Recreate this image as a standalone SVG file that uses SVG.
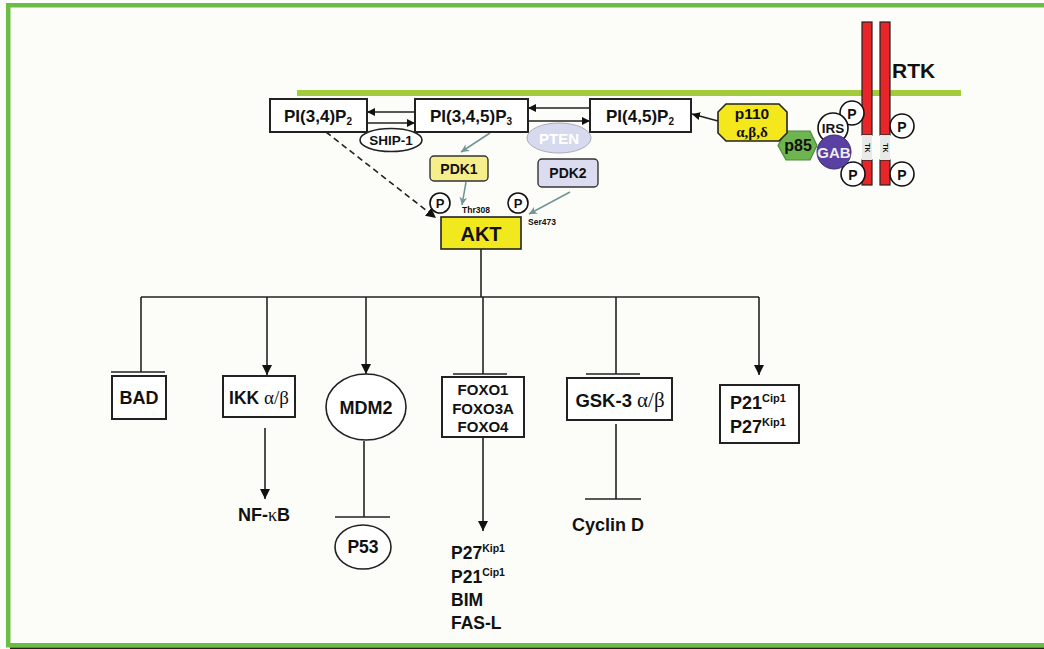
<svg xmlns="http://www.w3.org/2000/svg" width="1044" height="649" viewBox="0 0 1044 649">
<defs>
<marker id="ah" viewBox="0 0 10 10" refX="10" refY="5" markerWidth="10" markerHeight="10" orient="auto" markerUnits="userSpaceOnUse"><path d="M0,0 L10,5 L0,10 z" fill="#111"/></marker>
<marker id="ahs" viewBox="0 0 10 10" refX="10" refY="5" markerWidth="8" markerHeight="8" orient="auto" markerUnits="userSpaceOnUse"><path d="M0,0 L10,5 L0,10 z" fill="#111"/></marker>
<marker id="ahg" viewBox="0 0 10 10" refX="10" refY="5" markerWidth="8" markerHeight="8" orient="auto" markerUnits="userSpaceOnUse"><path d="M0,0 L10,5 L0,10 L3,5 z" fill="#6f9595"/></marker>
<style>
.t{font-family:"Liberation Sans",Arial,sans-serif;font-weight:bold;fill:#111;}
.g{font-family:"Liberation Serif","Times New Roman",serif;font-weight:normal;}
.box{fill:#fff;stroke:#222;stroke-width:2;}
.ln{stroke:#222;stroke-width:1.6;fill:none;}
.ga{stroke:#6f9595;stroke-width:1.5;fill:none;marker-end:url(#ahg);}
.pc{fill:#fff;stroke:#111;stroke-width:1.6;}
</style>
</defs>
<rect x="0" y="0" width="1044" height="649" fill="#fcfdf8"/>
<g id="frame">
<rect x="6" y="3" width="1038" height="4.5" fill="#6cbd45"/>
<rect x="6" y="3" width="4.5" height="644" fill="#6cbd45"/>
<rect x="6" y="643" width="1038" height="4.5" fill="#6cbd45"/>
<rect x="10" y="647.5" width="1034" height="1.5" fill="#222"/>
</g>
<g id="membrane"><rect x="297" y="90" width="664" height="6" fill="#a2cc3c"/></g>

<g id="connectors">
<line class="ln" x1="415" y1="112" x2="367" y2="112" marker-end="url(#ahs)" stroke-width="2"/>
<line class="ln" x1="367" y1="123" x2="415" y2="123" marker-end="url(#ahs)" stroke-width="2"/>
<line class="ln" x1="590" y1="108" x2="528" y2="108" marker-end="url(#ahs)" stroke-width="2"/>
<line class="ln" x1="528" y1="121" x2="590" y2="121" marker-end="url(#ahs)" stroke-width="2"/>
<line class="ln" x1="718" y1="121" x2="692" y2="114" marker-end="url(#ahs)"/>
<line class="ln" x1="326" y1="132" x2="436" y2="218" stroke-dasharray="6,4" marker-end="url(#ah)" stroke-width="1.8"/>
<line class="ga" x1="490" y1="133" x2="461" y2="152"/>
<line class="ga" x1="466" y1="182" x2="462" y2="205"/>
<line class="ga" x1="570" y1="192" x2="529" y2="214"/>
<line class="ln" x1="481" y1="249" x2="481" y2="297"/>
<line class="ln" x1="141" y1="297" x2="759" y2="297"/>
<line class="ln" x1="141" y1="297" x2="141" y2="372"/>
<line class="ln" x1="111" y1="372" x2="165" y2="372" stroke-width="2"/>
<line class="ln" x1="267" y1="297" x2="267" y2="375" marker-end="url(#ah)"/>
<line class="ln" x1="366" y1="297" x2="366" y2="374" marker-end="url(#ah)"/>
<line class="ln" x1="483" y1="297" x2="483" y2="374"/>
<line class="ln" x1="453" y1="374" x2="507" y2="374" stroke="#666" stroke-width="2"/>
<line class="ln" x1="616" y1="297" x2="616" y2="374"/>
<line class="ln" x1="586" y1="374" x2="640" y2="374" stroke="#666" stroke-width="2"/>
<line class="ln" x1="759" y1="297" x2="759" y2="375" marker-end="url(#ah)"/>
<line class="ln" x1="265" y1="428" x2="265" y2="499" marker-end="url(#ah)"/>
<line class="ln" x1="364" y1="441" x2="364" y2="517"/>
<line class="ln" x1="335" y1="517" x2="390" y2="517"/>
<line class="ln" x1="483" y1="438" x2="483" y2="531" marker-end="url(#ah)"/>
<line class="ln" x1="616" y1="424" x2="616" y2="499"/>
<line class="ln" x1="585" y1="499" x2="641" y2="499" stroke-width="2"/>
</g>

<g id="rtk">
<rect x="862" y="22" width="10" height="113" fill="#e8262a" stroke="#222" stroke-width="1.2"/>
<rect x="862" y="160" width="10" height="25" fill="#e8262a" stroke="#222" stroke-width="1.2"/>
<rect x="880" y="22" width="10" height="113" fill="#e8262a" stroke="#222" stroke-width="1.2"/>
<rect x="880" y="160" width="10" height="25" fill="#e8262a" stroke="#222" stroke-width="1.2"/>
<rect x="862" y="135" width="10" height="25" fill="#e6ebea"/>
<rect x="880" y="135" width="10" height="25" fill="#e6ebea"/>
<text class="t" font-size="7" text-anchor="middle" transform="translate(867,148) rotate(90)" dy="2.5">TK</text>
<text class="t" font-size="7" text-anchor="middle" transform="translate(885,148) rotate(90)" dy="2.5">TK</text>
<text class="t" x="892" y="78" font-size="21">RTK</text>
</g>
<g id="p-rtk">
<circle class="pc" cx="852" cy="113" r="12"/><text class="t" x="852" y="118.5" font-size="14" text-anchor="middle">P</text>
<circle class="pc" cx="902" cy="126" r="12"/><text class="t" x="902" y="131.5" font-size="14" text-anchor="middle">P</text>
<circle class="pc" cx="853" cy="174" r="12"/><text class="t" x="853" y="179.5" font-size="14" text-anchor="middle">P</text>
<circle class="pc" cx="902" cy="174" r="12"/><text class="t" x="902" y="179.5" font-size="14" text-anchor="middle">P</text>
</g>
<g id="irs">
<circle class="pc" cx="833" cy="128" r="15"/><text class="t" x="833" y="133" font-size="13.5" text-anchor="middle">IRS</text>
</g>
<g id="gab">
<circle cx="834" cy="152" r="17" fill="#5b40a3" stroke="#3a2a70" stroke-width="1"/>
<text class="t" x="834" y="157.5" font-size="15" text-anchor="middle" style="fill:#eee">GAB</text>
</g>
<g id="p85">
<polygon points="786,131 810,131 817,145.5 810,160 786,160 778,145.5" fill="#6fb54f" stroke="#4c8a38" stroke-width="1.2"/>
<text class="t" x="798" y="151" font-size="16" text-anchor="middle">p85</text>
</g>
<g id="p110">
<polygon points="726,104 779,104 787,112 787,133 779,141 726,141 718,133 718,112" fill="#f4e81c" stroke="#222" stroke-width="1.6"/>
<text class="t" x="752" y="119" font-size="15.5" text-anchor="middle">p110</text>
<text class="t" x="752" y="137" font-size="15" text-anchor="middle" style="font-family:'Liberation Serif',serif">α,β,δ</text>
</g>

<g id="pi34p2">
<rect class="box" x="270" y="99" width="97" height="33"/>
<text class="t" x="318" y="121.5" font-size="17" text-anchor="middle">PI(3,4)P<tspan font-size="10" dy="3">2</tspan></text>
</g>
<g id="pi345p3">
<rect class="box" x="415" y="99" width="113" height="33"/>
<text class="t" x="471" y="121.5" font-size="17" text-anchor="middle">PI(3,4,5)P<tspan font-size="10" dy="3">3</tspan></text>
</g>
<g id="pi45p2">
<rect class="box" x="590" y="99" width="101" height="33"/>
<text class="t" x="640" y="121.5" font-size="17" text-anchor="middle">PI(4,5)P<tspan font-size="10" dy="3">2</tspan></text>
</g>
<g id="ship1">
<ellipse cx="391" cy="140" rx="31" ry="11.5" fill="#fff" stroke="#222" stroke-width="1.6"/>
<text class="t" x="391" y="145" font-size="13.5" text-anchor="middle">SHIP-1</text>
</g>
<g id="pten">
<ellipse cx="559" cy="138" rx="32" ry="15" fill="#d7d9ee" stroke="#aab" stroke-width="1"/>
<text class="t" x="559" y="143.5" font-size="15" text-anchor="middle" style="fill:#fff">PTEN</text>
</g>
<g id="pdk1">
<rect x="430" y="156" width="58" height="25" rx="4" fill="#f6ee8a" stroke="#333" stroke-width="1.4"/>
<text class="t" x="459" y="173.5" font-size="14" text-anchor="middle">PDK1</text>
</g>
<g id="pdk2">
<rect x="538" y="159" width="60" height="28" rx="4" fill="#dcdcf0" stroke="#333" stroke-width="1.4"/>
<text class="t" x="568" y="178" font-size="14" text-anchor="middle">PDK2</text>
</g>
<g id="akt">
<rect x="441" y="217" width="80" height="32" fill="#f2e81e" stroke="#222" stroke-width="1.6"/>
<text class="t" x="481" y="241" font-size="20" text-anchor="middle">AKT</text>
<circle class="pc" cx="440" cy="203" r="10"/><text class="t" x="440" y="208" font-size="13" text-anchor="middle">P</text>
<circle class="pc" cx="518" cy="203" r="10"/><text class="t" x="518" y="208" font-size="13" text-anchor="middle">P</text>
<text class="t" x="462" y="213" font-size="8.5">Thr308</text>
<text class="t" x="528" y="225" font-size="8.5">Ser473</text>
</g>

<g id="bad">
<rect class="box" x="112" y="376" width="54" height="43"/>
<text class="t" x="139" y="404" font-size="18" text-anchor="middle">BAD</text>
</g>
<g id="ikk">
<rect class="box" x="223" y="376" width="72" height="41"/>
<text class="t" x="259" y="404" font-size="17.5" text-anchor="middle">IKK <tspan style="font-family:'Liberation Serif',serif;font-weight:normal" font-size="19">α/β</tspan></text>
</g>
<g id="mdm2">
<ellipse cx="366" cy="407" rx="40" ry="33" fill="#fff" stroke="#222" stroke-width="1.6"/>
<text class="t" x="366" y="413.5" font-size="18" text-anchor="middle">MDM2</text>
</g>
<g id="foxo">
<rect class="box" x="442" y="377" width="82" height="60"/>
<text class="t" x="483" y="395" font-size="15" text-anchor="middle">FOXO1</text>
<text class="t" x="483" y="413.5" font-size="15" text-anchor="middle">FOXO3A</text>
<text class="t" x="483" y="432" font-size="15" text-anchor="middle">FOXO4</text>
</g>
<g id="gsk3">
<rect class="box" x="567" y="378" width="105" height="42"/>
<text class="t" x="620" y="407" font-size="18.5" text-anchor="middle">GSK-3 <tspan style="font-family:'Liberation Serif',serif;font-weight:normal" font-size="21">α/β</tspan></text>
</g>
<g id="p21p27">
<rect class="box" x="720" y="385" width="79" height="58"/>
<text class="t" x="730" y="409" font-size="18">P21<tspan font-size="11" dy="-7">Cip1</tspan></text>
<text class="t" x="730" y="433" font-size="18">P27<tspan font-size="11" dy="-7">Kip1</tspan></text>
</g>
<g id="nfkb">
<text class="t" x="264" y="521" font-size="18" text-anchor="middle">NF-<tspan style="font-family:'Liberation Serif',serif;font-weight:normal">κ</tspan>B</text>
</g>
<g id="p53">
<ellipse cx="363" cy="547" rx="28" ry="22" fill="#fff" stroke="#222" stroke-width="1.6"/>
<text class="t" x="363" y="553" font-size="17.5" text-anchor="middle">P53</text>
</g>
<g id="foxo-targets">
<text class="t" x="451" y="559" font-size="17.5">P27<tspan font-size="10.5" dy="-7">Kip1</tspan></text>
<text class="t" x="451" y="583" font-size="17.5">P21<tspan font-size="10.5" dy="-7">Cip1</tspan></text>
<text class="t" x="451" y="606" font-size="17.5">BIM</text>
<text class="t" x="451" y="629" font-size="17.5">FAS-L</text>
</g>
<g id="cyclind">
<text class="t" x="608" y="531" font-size="18" text-anchor="middle">Cyclin D</text>
</g>
</svg>
